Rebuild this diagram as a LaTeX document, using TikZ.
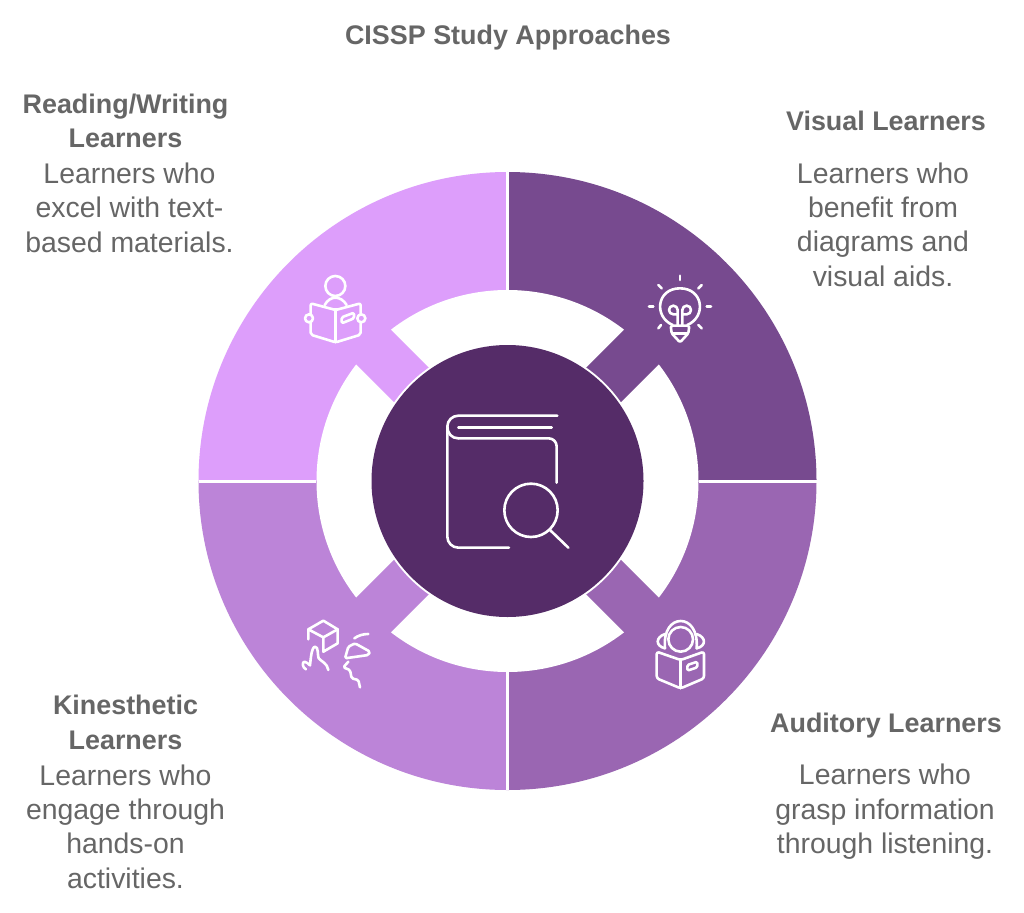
\documentclass[tikz,border=0pt]{standalone}
\usepackage{fontspec}
\setmainfont{Liberation Sans}
\definecolor{qtr}{HTML}{774A8F}
\definecolor{qbr}{HTML}{9A66B2}
\definecolor{qbl}{HTML}{BC84D8}
\definecolor{qtl}{HTML}{DD9EFB}
\definecolor{core}{HTML}{552C68}
\definecolor{txt}{HTML}{666666}
\tikzset{
  headtext/.style={text=txt,inner sep=0pt,align=center,font=\fontsize{26.9}{34.4}\selectfont\bfseries},
  bodytext/.style={text=txt,inner sep=0pt,align=center,font=\fontsize{28.4}{34.4}\selectfont},
  icon/.style={draw=white,line width=2.6pt,line cap=round,line join=round},
  zoomed/.style={x=0.33333pt,y=-0.33333pt}
}
\begin{document}
\begin{tikzpicture}[x=1pt,y=-1pt]
\useasboundingbox (0,0) rectangle (1024,912);
\fill[white] (0,0) rectangle (1024,912);
\coordinate (c) at (507.5,481);
% quadrants
\fill[qtr] (c) -- ++(0,-309) arc[start angle=-90,end angle=0,radius=309] -- cycle;
\fill[qbr] (c) -- ++(309,0) arc[start angle=0,end angle=90,radius=309] -- cycle;
\fill[qbl] (c) -- ++(0,309) arc[start angle=90,end angle=180,radius=309] -- cycle;
\fill[qtl] (c) -- ++(-309,0) arc[start angle=180,end angle=270,radius=309] -- cycle;
% white ring
\fill[white] (c) circle[radius=191];
% arms
\begin{scope}
\clip (c) circle[radius=192];
\fill[qtr] (507.5,481) ++(-17.3,-17.3) -- ++(200,-200) -- ++(34.6,34.6) -- ++(-200,200) -- cycle;
\fill[qbr] (507.5,481) ++(17.3,-17.3) -- ++(200,200) -- ++(-34.6,34.6) -- ++(-200,-200) -- cycle;
\fill[qbl] (507.5,481) ++(17.3,17.3) -- ++(-200,200) -- ++(-34.6,-34.6) -- ++(200,-200) -- cycle;
\fill[qtl] (507.5,481) ++(-17.3,17.3) -- ++(-200,-200) -- ++(34.6,-34.6) -- ++(200,200) -- cycle;
\end{scope}
% separators
\draw[white,line width=3pt] (507.5,172) -- (507.5,290);
\draw[white,line width=3pt] (507.5,672) -- (507.5,790);
\draw[white,line width=3pt] (198.5,481) -- (316,481);
\draw[white,line width=3pt] (699,481) -- (816.5,481);
% core
\fill[white] (c) circle[radius=138];
\fill[core] (c) circle[radius=136];
% book icon
\begin{scope}[shift={(370,340)},zoomed]
\draw[icon,rounded corners=11pt] (562,227) -- (232,227) -- (232,623) -- (417,623);
\draw[icon] (232,260) .. controls (232,280) and (245,295) .. (265,295);
\draw[icon,rounded corners=8pt] (265,295) -- (560,295) -- (560,428);
\draw[icon] (265,262) -- (545,262);
\draw[icon] (483,511) circle[radius=80];
\draw[icon] (540,570) -- (595,623);
\end{scope}
% reading icon
\begin{scope}[shift={(290,260)},zoomed]
\draw[icon] (136,78) circle[radius=30];
\draw[icon] (104,135) .. controls (112,120) and (125,113) .. (136,113) .. controls (148,113) and (161,120) .. (170,135);
\draw[icon,rounded corners=2pt] (62,163) -- (62,130) -- (137,150) -- (212,130) -- (212,163);
\draw[icon,rounded corners=2pt] (62,187) -- (62,224) -- (137,247) -- (212,224) -- (212,187);
\draw[icon] (137,150) -- (137,247);
\draw[icon] (57,175) circle[radius=12];
\draw[icon] (214,175) circle[radius=12];
\draw[icon,rounded corners=1.5pt] (155,172) -- (192,158) -- (192,175) -- (155,190) -- cycle;
\end{scope}
% bulb icon
\begin{scope}[shift={(640,265)},zoomed]
\draw[icon] (98,180) .. controls (40,155) and (50,70) .. (120,70) .. controls (190,70) and (200,155) .. (142,180);
\draw[icon] (120,32) -- (120,45);
\draw[icon] (55,60) -- (65,70);
\draw[icon] (185,60) -- (175,70);
\draw[icon] (27,125) -- (40,125);
\draw[icon] (200,125) -- (213,125);
\draw[icon] (55,190) -- (63,180);
\draw[icon] (185,190) -- (175,180);
\draw[icon] (113,180) -- (113,135) arc[start angle=0,end angle=-270,radius=13] -- (113,148);
\draw[icon] (127,180) -- (127,135) arc[start angle=180,end angle=450,radius=13] -- (127,148);
\draw[icon,rounded corners=1.5pt] (92,182) -- (148,182) -- (145,205) -- (120,232) -- (95,205) -- cycle;
\draw[icon] (97,205) -- (143,205);
\end{scope}
% auditory icon
\begin{scope}[shift={(640,610)},zoomed]
\draw[icon] (122,88) circle[radius=37];
\draw[icon] (75,115) .. controls (70,60) and (95,33) .. (122,33) .. controls (149,33) and (174,60) .. (170,115);
\draw[icon] (75,72) .. controls (46,82) and (46,108) .. (75,115);
\draw[icon] (170,72) .. controls (199,82) and (199,108) .. (170,115);
\draw[icon,rounded corners=2.5pt] (122,150) -- (50,125) -- (50,205) -- (122,235) -- (192,205) -- (192,125) -- cycle;
\draw[icon] (122,150) -- (122,235);
\draw[icon,rounded corners=1.5pt] (142,165) -- (172,155) -- (172,172) -- (142,182) -- cycle;
\end{scope}
% kinesthetic icon
\begin{scope}[shift={(290,610)},zoomed]
\draw[icon] (55,88) -- (55,58) -- (100,32) -- (143,58) -- (143,100) -- (100,125) -- (100,82) -- (55,58);
\draw[icon] (100,82) -- (143,58);
\draw[icon] (48,178) .. controls (36,172) and (36,155) .. (44,155) .. controls (50,155) and (54,162) .. (60,166) .. controls (62,150) and (64,112) .. (75,110) .. controls (86,110) and (82,135) .. (86,145) .. controls (95,155) and (112,160) .. (115,180);
\draw[icon,rounded corners=1.5pt] (165,145) -- (175,110) -- (195,100) -- (240,125) -- (235,135) -- cycle;
\draw[icon] (193,85) .. controls (205,76) and (220,72) .. (235,72);
\draw[icon,rounded corners=1.5pt] (175,155) -- (160,172) -- (180,180) -- (185,205) -- (205,210) -- (210,232);
\end{scope}
% text
\node[headtext] (title) at (508,38) {CISSP Study Approaches};
\node[headtext] (rwh) at (125.5,121) {Reading/Writing\\Learners};
\node[bodytext] (rwb) at (129.5,207.5) {Learners who\\excel with text-\\based materials.};
\node[headtext] (vh) at (886,121) {Visual Learners};
\node[bodytext] (vb) at (883,224.5) {Learners who\\benefit from\\diagrams and\\visual aids.};
\node[headtext] (ah) at (886,726) {Auditory Learners};
\node[bodytext] (ab) at (885,812) {Learners who\\grasp information\\through listening.};
\node[headtext] (kh) at (125.5,722.5) {Kinesthetic\\Learners};
\node[bodytext] (kb) at (125.5,826.5) {Learners who\\engage through\\hands-on\\activities.};
\end{tikzpicture}
\end{document}
